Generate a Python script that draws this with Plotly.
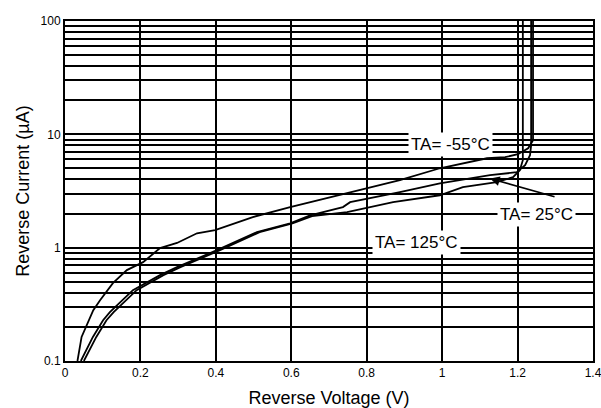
import plotly.graph_objects as go
import math

# Reverse Voltage (V) vs Reverse Current (uA)
v_m55 = [0.033, 0.044, 0.075, 0.093, 0.127, 0.164, 0.207, 0.252, 0.297, 0.350, 0.398,
         0.498, 0.597, 0.650, 0.756, 0.888, 0.994, 1.119, 1.167, 1.201, 1.228, 1.241, 1.241]
i_m55 = [0.10, 0.163, 0.281, 0.344, 0.486, 0.634, 0.745, 0.99, 1.10, 1.34, 1.43,
         1.86, 2.28, 2.52, 3.09, 3.94, 5.02, 6.15, 6.28, 6.68, 7.53, 8.87, 100]

v_25 = [0.042, 0.074, 0.101, 0.119, 0.180, 0.252, 0.297, 0.403, 0.509, 0.597, 0.650,
        0.737, 0.756, 0.888, 0.994, 1.127, 1.198, 1.220, 1.233, 1.236, 1.236]
i_25 = [0.10, 0.163, 0.229, 0.27, 0.422, 0.572, 0.673, 0.95, 1.37, 1.64, 1.93,
        2.28, 2.52, 3.09, 3.70, 4.36, 4.63, 5.34, 6.54, 8.02, 100]

v_125 = [0.050, 0.083, 0.110, 0.129, 0.190, 0.261, 0.306, 0.411, 0.516, 0.603, 0.655,
         0.748, 0.870, 0.994, 1.055, 1.145, 1.188, 1.206, 1.214, 1.214]
i_125 = [0.10, 0.163, 0.229, 0.27, 0.422, 0.572, 0.673, 0.95, 1.37, 1.64, 1.90,
         2.06, 2.52, 2.90, 3.42, 3.79, 4.19, 4.82, 5.92, 100]

x_ticks = [0, 0.2, 0.4, 0.6, 0.8, 1.0, 1.2, 1.4]
x_ticktext = ["0", "0.2", "0.4", "0.6", "0.8", "1", "1.2", "1.4"]
y_grid = [m * 10 ** e for e in (-1, 0, 1) for m in range(1, 10)] + [100]
y_labels = {0.1: "0.1", 1: "1", 10: "10", 100: "100"}

labels = [
    ("TA= -55°C", 1.021, 8.2),
    ("TA= 25°C", 1.2515, 1.97),
    ("TA= 125°C", 0.933, 1.10),
]
arrow_head = (1.127, 4.07)
arrow_tail = (1.302, 2.79)

FONT = "Liberation Sans, Arial, sans-serif"
line = dict(color="black", width=1.8)

fig = go.Figure()
for vx, iy in [(v_m55, i_m55), (v_25, i_25), (v_125, i_125)]:
    fig.add_trace(go.Scatter(x=vx, y=iy, mode="lines", line=line, showlegend=False,
                             hoverinfo="skip"))

ticktext = []
for v in y_grid:
    lab = ""
    for k, t in y_labels.items():
        if abs(v - k) < 1e-9:
            lab = t
    ticktext.append(lab)

for text, lx, ly in labels:
    fig.add_annotation(x=lx, y=math.log10(ly), text=text, showarrow=False,
                       bgcolor="white", font=dict(family=FONT, size=17, color="black"),
                       borderpad=2)

fig.add_annotation(x=arrow_head[0], y=math.log10(arrow_head[1]),
                   ax=arrow_tail[0], ay=math.log10(arrow_tail[1]),
                   axref="x", ayref="y", text="", showarrow=True,
                   arrowhead=2, arrowsize=1.2, arrowwidth=1.6, arrowcolor="black")

fig.update_layout(
    width=601, height=408,
    margin=dict(l=65, r=8, t=21, b=47),
    paper_bgcolor="white", plot_bgcolor="white",
    font=dict(family=FONT, color="black"),
    xaxis=dict(range=[0, 1.40002], tickvals=x_ticks, ticktext=x_ticktext,
               showgrid=True, gridcolor="black", gridwidth=2,
               showline=True, mirror=True, linecolor="black", linewidth=2,
               zeroline=False, ticks="", tickfont=dict(size=12),
               ticklabeloverflow="allow",
               title=dict(text="Reverse Voltage (V)", font=dict(size=18), standoff=14),
               automargin=False),
    yaxis=dict(type="log", range=[-1, 2], tickvals=y_grid, ticktext=ticktext,
               showgrid=True, gridcolor="black", gridwidth=2,
               showline=True, mirror=True, linecolor="black", linewidth=2,
               zeroline=False, ticks="", tickfont=dict(size=12),
               ticklabeloverflow="allow",
               title=dict(text="Reverse Current (µA)", font=dict(size=18), standoff=6),
               automargin=False),
)

fig.write_html("out.html")
